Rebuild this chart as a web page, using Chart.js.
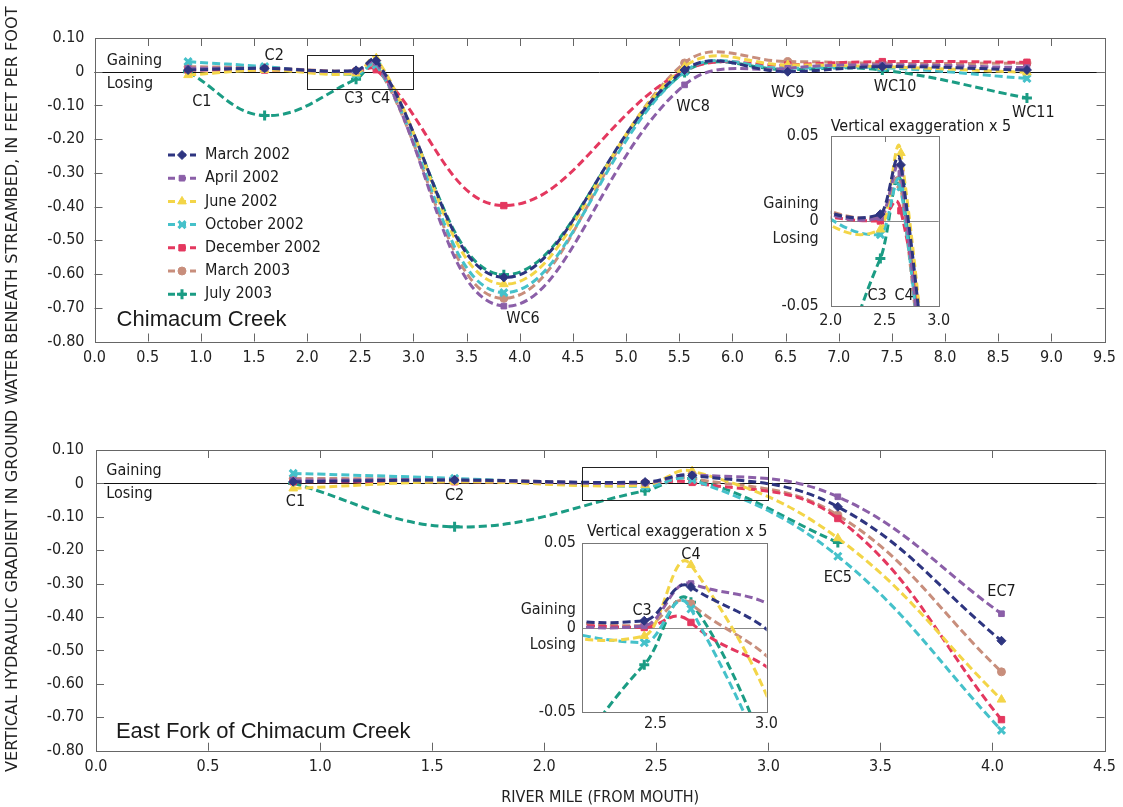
<!DOCTYPE html>
<html><head><meta charset="utf-8">
<script src="https://cdn.jsdelivr.net/npm/chart.js@4.4.1/dist/chart.umd.min.js"></script>
<style>
html,body{margin:0;padding:0;background:#fff;}
body{width:1123px;height:807px;position:relative;overflow:hidden;}
canvas{position:absolute;display:block;}
#ytitle{position:absolute;left:0;top:0;white-space:nowrap;font-size:16px;line-height:16px;color:#222;transform-origin:0 0;}
</style></head><body>
<canvas id="cTop" width="1123" height="380" style="left:0;top:0"></canvas>
<canvas id="cBot" width="1123" height="417" style="left:0;top:390px"></canvas>
<canvas id="iTop" width="280" height="230" style="left:740px;top:110px"></canvas>
<canvas id="iBot" width="290" height="230" style="left:490px;top:515px"></canvas>
<div id="ytitle">VERTICAL HYDRAULIC GRADIENT IN GROUND WATER BENEATH STREAMBED, IN FEET PER FOOT</div>
<script>
// ---------------- DATA ----------------
const seriesNames = ['March 2002','April 2002','June 2002','October 2002','December 2002','March 2003','July 2003'];

// Chimacum Creek (upper panel)
const chimSites = ['C1','C2','C3','C4','WC6','WC8','WC9','WC10','WC11'];
const chimMiles = [0.88, 1.6, 2.46, 2.65, 3.85, 5.55, 6.52, 7.41, 8.77];
const chimMar02 = [0.005, 0.01, 0.004, 0.033, -0.61, 0.005, 0.0, 0.015, 0.005];
const chimApr02 = [0.01, 0.01, 0.002, 0.028, -0.695, -0.039, 0.01, 0.02, 0.012];
const chimJun02 = [-0.01, 0.005, -0.005, 0.04, -0.63, 0.015, 0.02, 0.015, -0.002];
const chimOct02 = [0.03, 0.015, -0.008, 0.02, -0.655, 0.0, 0.01, 0.012, -0.02];
const chimDec02 = [0.005, 0.005, 0.0, 0.006, -0.397, 0.003, 0.02, 0.03, 0.028];
const chimMar03 = [0.015, 0.012, 0.002, 0.02, -0.672, 0.026, 0.03, 0.025, 0.025];
const chimJul03 = [0.0, -0.13, -0.022, 0.022, -0.602, -0.002, 0.006, 0.005, -0.078];

// East Fork of Chimacum Creek (lower panel)
const eastSites = ['C1','C2','C3','C4','EC5','EC7'];
const eastMiles = [0.88, 1.6, 2.45, 2.66, 3.31, 4.04];
const eastMar02 = [0.005, 0.01, 0.004, 0.024, -0.07, -0.471];
const eastApr02 = [0.01, 0.01, 0.001, 0.026, -0.04, -0.39];
const eastJun02 = [-0.015, 0.005, -0.005, 0.037, -0.164, -0.647];
const eastOct02 = [0.03, 0.015, -0.009, 0.011, -0.218, -0.739];
const eastDec02 = [0.005, 0.005, 0.0, 0.003, -0.105, -0.707];
const eastMar03 = [0.015, 0.012, 0.001, 0.014, -0.095, -0.564];
const eastJul03 = [0.0, -0.13, -0.022, 0.015, -0.177, null];

// tick values / labels
const mainYTickValues = [0.1, 0, -0.1, -0.2, -0.3, -0.4, -0.5, -0.6, -0.7, -0.8];
const mainYTickLabels = ['0.10','0','-0.10','-0.20','-0.30','-0.40','-0.50','-0.60','-0.70','-0.80'];
const topXTickValues = [0,0.5,1,1.5,2,2.5,3,3.5,4,4.5,5,5.5,6,6.5,7,7.5,8,8.5,9,9.5];
const topXTickLabels = ['0.0','0.5','1.0','1.5','2.0','2.5','3.0','3.5','4.0','4.5','5.0','5.5','6.0','6.5','7.0','7.5','8.0','8.5','9.0','9.5'];
const botXTickValues = [0,0.5,1,1.5,2,2.5,3,3.5,4,4.5];
const botXTickLabels = ['0.0','0.5','1.0','1.5','2.0','2.5','3.0','3.5','4.0','4.5'];
const insetYTickValues = [0.05, 0, -0.05];
const insetYTickLabels = ['0.05', ['Gaining','0','Losing'], '-0.05'];
const insetTopXTickValues = [2.0, 2.5, 3.0];
const insetTopXTickLabels = ['2.0','2.5','3.0'];
const insetBotXTickValues = [2.5, 3.0];
const insetBotXTickLabels = ['2.5','3.0'];

// text annotations (data units)
const chimSiteLabelX = [1.01, 1.69, 2.44, 2.69, 4.03, 5.63, 6.52, 7.53, 8.83];
const chimSiteLabelY = [-0.089, 0.047, -0.081, -0.081, -0.734, -0.104, -0.064, -0.046, -0.123];
const eastLabelText = ['C1','C2','EC5','EC7'];
const eastLabelX = [0.89, 1.6, 3.31, 4.04];
const eastLabelY = [-0.055, -0.038, -0.284, -0.326];
const insetTopLabelText = ['C3','C4'];
const insetTopLabelX = [2.43, 2.68];
const insetTopLabelY = [-0.044, -0.044];
const insetBotLabelText = ['C3','C4'];
const insetBotLabelX = [2.44, 2.66];
const insetBotLabelY = [0.010, 0.043];
// zoomed windows (mile range, value range)
const topWindow = [2.0, 3.0, -0.05, 0.05];
const botWindow = [2.17, 3.0, -0.05, 0.05];

// ---------------- STYLE ----------------
const NARROW = "'Liberation Sans Narrow','Arial Narrow','DejaVu Sans Condensed',sans-serif";
const REG = "'Liberation Sans',Arial,sans-serif";
const colors = ['#2e3580','#8b5fa8','#f3d548','#45c1ca','#e4385f','#c88e7c','#1b9c84'];
const pStyles = ['rectRot','rect','triangle','crossRot','rect','circle','cross'];
const pRadius = [4.5, 4, 5, 5, 4.5, 4, 5];
const pBorder = [1, 1, 1, 3, 1, 1, 3];

Chart.defaults.font.family = NARROW;
Chart.defaults.font.size = 16;
Chart.defaults.color = '#222';
Chart.defaults.animation = false;

function makeDatasets(miles, series, clip) {
  return series.map((vals, i) => ({
    label: seriesNames[i],
    data: miles.map((m, j) => ({x: m, y: vals[j]})).filter(p => p.y !== null),
    borderColor: colors[i], backgroundColor: colors[i],
    pointStyle: pStyles[i], pointRadius: pRadius[i], pointBorderWidth: pBorder[i],
    pointHoverRadius: pRadius[i],
    borderWidth: 3, borderDash: [8, 4], tension: 0.4, fill: false,
    clip: clip
  }));
}
const chimSeries = [chimMar02, chimApr02, chimJun02, chimOct02, chimDec02, chimMar03, chimJul03];
const eastSeries = [eastMar02, eastApr02, eastJun02, eastOct02, eastDec02, eastMar03, eastJul03];

function linkCps(inset, main) {
  const mx = main.scales.x, my = main.scales.y, ix = inset.scales.x, iy = inset.scales.y;
  inset.data.datasets.forEach((ds, i) => {
    const mm = main.getDatasetMeta(i), im = inset.getDatasetMeta(i);
    if (!mm.dataset || !im.dataset) return;
    mm.dataset.updateControlPoints(main.chartArea, 'x');
    im.dataset.updateControlPoints(inset.chartArea, 'x');
    im.data.forEach((p, j) => {
      const q = mm.data[j]; if (!q) return;
      p.cp1x = ix.getPixelForValue(mx.getValueForPixel(q.cp1x));
      p.cp1y = iy.getPixelForValue(my.getValueForPixel(q.cp1y));
      p.cp2x = ix.getPixelForValue(mx.getValueForPixel(q.cp2x));
      p.cp2y = iy.getPixelForValue(my.getValueForPixel(q.cp2y));
    });
    im.dataset._path = undefined;
  });
}

function drawMarker(ctx, i, x, y) {
  ctx.save();
  ctx.fillStyle = colors[i]; ctx.strokeStyle = colors[i];
  ctx.lineWidth = pBorder[i]; ctx.setLineDash([]);
  if (Chart.helpers && Chart.helpers.drawPoint) {
    Chart.helpers.drawPoint(ctx, {pointStyle: pStyles[i], radius: pRadius[i], rotation: 0, borderWidth: pBorder[i]}, x, y);
  } else {
    ctx.beginPath(); ctx.arc(x, y, pRadius[i], 0, Math.PI*2); ctx.fill();
  }
  ctx.restore();
}

function deco(cfg) {
  return {
    id: 'deco',
    beforeDatasetsDraw(chart) {
      const {ctx, chartArea: a, scales: {x, y}} = chart;
      ctx.save();
      if (cfg.whiteBg) { ctx.fillStyle = '#fff'; ctx.fillRect(a.left, a.top, a.right - a.left, a.bottom - a.top); }
      const y0 = Math.round(y.getPixelForValue(0)) + 0.5;
      ctx.strokeStyle = cfg.zeroColor; ctx.lineWidth = 1;
      ctx.beginPath(); ctx.moveTo(a.left, y0); ctx.lineTo(a.right, y0); ctx.stroke();
      ctx.restore();
      if (cfg.link) linkCps(chart, cfg.link());
    },
    afterDatasetsDraw(chart) {
      const {ctx, chartArea: a, scales: {x, y}} = chart;
      ctx.save();
      // frame
      ctx.strokeStyle = cfg.frameColor; ctx.lineWidth = 1; ctx.setLineDash([]);
      ctx.strokeRect(Math.round(a.left) + 0.5, Math.round(a.top) + 0.5, Math.round(a.right - a.left), Math.round(a.bottom - a.top));
      // inward ticks
      const tl = cfg.tickLen;
      ctx.beginPath();
      x.ticks.forEach(t => {
        const px = Math.round(x.getPixelForValue(t.value)) + 0.5;
        if (px <= a.left + 1 || px >= a.right - 1) return;
        if (cfg.xTicksTop) { ctx.moveTo(px, a.top); ctx.lineTo(px, a.top + tl); }
        if (cfg.xTicksBottom) { ctx.moveTo(px, a.bottom); ctx.lineTo(px, a.bottom - tl); }
      });
      if (cfg.yTicks) y.ticks.forEach(t => {
        const py = Math.round(y.getPixelForValue(t.value)) + 0.5;
        if (py <= a.top + 1 || py >= a.bottom - 1) return;
        ctx.moveTo(a.left, py); ctx.lineTo(a.left + tl, py);
        ctx.moveTo(a.right, py); ctx.lineTo(a.right - tl, py);
      });
      ctx.stroke();
      // zoom window rectangle
      if (cfg.window) {
        const w = cfg.window;
        const x1 = x.getPixelForValue(w[0]), x2 = x.getPixelForValue(w[1]);
        const y1 = y.getPixelForValue(w[3]), y2 = y.getPixelForValue(w[2]);
        ctx.strokeStyle = '#222';
        ctx.strokeRect(Math.round(x1) + 0.5, Math.round(y1) + 0.5, Math.round(x2 - x1), Math.round(y2 - y1));
      }
      ctx.restore();
    },
    afterDraw(chart) {
      const {ctx, chartArea: a, scales: {x, y}} = chart;
      ctx.save();
      ctx.textBaseline = 'middle'; ctx.fillStyle = '#1a1a1a';
      (cfg.texts || []).forEach(tx => {
        ctx.font = tx.font || ('16px ' + NARROW);
        ctx.textAlign = tx.align || 'center';
        ctx.fillText(tx.t, x.getPixelForValue(tx.x), y.getPixelForValue(tx.y));
      });
      if (cfg.title) {
        ctx.font = '16px ' + NARROW; ctx.textAlign = 'left';
        ctx.fillText(cfg.title, a.left + cfg.titleDx, a.top + cfg.titleDy);
      }
      if (cfg.legend) {
        chart.data.datasets.forEach((ds, i) => {
          const yy = a.top + 117 + i * 23.2;
          ctx.save();
          ctx.strokeStyle = colors[i]; ctx.lineWidth = 3; ctx.setLineDash([7, 4]);
          ctx.beginPath(); ctx.moveTo(a.left + 73.5, yy); ctx.lineTo(a.left + 101.5, yy); ctx.stroke();
          ctx.restore();
          drawMarker(ctx, i, a.left + 87.5, yy);
          ctx.fillStyle = '#1a1a1a'; ctx.font = '16px ' + NARROW; ctx.textAlign = 'left';
          ctx.fillText(ds.label, a.left + 110.5, yy);
        });
      }
      ctx.restore();
    }
  };
}

function scalesCfg(o) {
  return {
    x: {
      type: 'linear', min: o.xmin, max: o.xmax,
      afterBuildTicks: s => { s.ticks = o.xv.map(v => ({value: v})); },
      ticks: { callback: (v, i) => o.xl[i], padding: o.xpad, autoSkip: false, maxRotation: 0, color: '#222', font: {size: 16} },
      grid: { display: false, drawTicks: false }, border: { display: false },
      title: o.xtitle ? { display: true, text: o.xtitle, font: {size: 16}, color: '#222', padding: {top: 0, bottom: 0} } : {display: false},
      afterFit: s => { s.height = o.xh; }
    },
    y: {
      type: 'linear', min: o.ymin, max: o.ymax,
      afterBuildTicks: s => { s.ticks = o.yv.map(v => ({value: v})); },
      ticks: { callback: (v, i) => o.yl[i], padding: o.ypad, autoSkip: false, color: '#222', font: {size: 16, lineHeight: 1.1} },
      grid: { display: false, drawTicks: false }, border: { display: false },
      afterFit: s => { s.width = o.yw; }
    }
  };
}

const baseOpts = (padding, scales, extra) => Object.assign({
  responsive: false, devicePixelRatio: 1, animation: false,
  layout: { padding },
  plugins: { legend: {display: false}, tooltip: {enabled: false}, title: {display: false} },
  elements: { line: { capBezierPoints: false } },
  events: [],
  scales
}, extra || {});

// ---------------- TOP MAIN ----------------
const topTexts = chimSites.map((s, i) => ({t: s, x: chimSiteLabelX[i], y: chimSiteLabelY[i]}))
  .concat([
    {t: 'Gaining', x: 0.115, y: 0.032, align: 'left'},
    {t: 'Losing', x: 0.115, y: -0.036, align: 'left'},
    {t: 'Chimacum Creek', x: 0.208, y: -0.736, align: 'left', font: '22px ' + REG}
  ]);
const chartTop = new Chart(document.getElementById('cTop'), {
  type: 'line',
  data: { datasets: makeDatasets(chimMiles, chimSeries, undefined) },
  options: baseOpts({top: 38, right: 16.5, left: 0, bottom: 0}, scalesCfg({
    xmin: 0, xmax: 9.5, xv: topXTickValues, xl: topXTickLabels, xpad: 7, xh: 38.5,
    ymin: -0.8, ymax: 0.1, yv: mainYTickValues, yl: mainYTickLabels, ypad: 10, yw: 94.5
  })),
  plugins: [deco({zeroColor: '#111', frameColor: '#666', tickLen: 8, xTicksTop: true, xTicksBottom: true, yTicks: true,
    window: topWindow, texts: topTexts, legend: true})]
});

// ---------------- BOTTOM MAIN ----------------
const botTexts = eastLabelText.map((s, i) => ({t: s, x: eastLabelX[i], y: eastLabelY[i]}))
  .concat([
    {t: 'Gaining', x: 0.046, y: 0.038, align: 'left'},
    {t: 'Losing', x: 0.046, y: -0.032, align: 'left'},
    {t: 'East Fork of Chimacum Creek', x: 0.089, y: -0.744, align: 'left', font: '22px ' + REG}
  ]);
const chartBot = new Chart(document.getElementById('cBot'), {
  type: 'line',
  data: { datasets: makeDatasets(eastMiles, eastSeries, undefined) },
  options: baseOpts({top: 60, right: 17.5, left: 0, bottom: 0}, scalesCfg({
    xmin: 0, xmax: 4.5, xv: botXTickValues, xl: botXTickLabels, xpad: 7, xh: 56.3, xtitle: 'RIVER MILE (FROM MOUTH)',
    ymin: -0.8, ymax: 0.1, yv: mainYTickValues, yl: mainYTickLabels, ypad: 12, yw: 96
  })),
  plugins: [deco({zeroColor: '#111', frameColor: '#666', tickLen: 8, xTicksTop: true, xTicksBottom: true, yTicks: true,
    window: botWindow, texts: botTexts})]
});

// ---------------- TOP INSET ----------------
new Chart(document.getElementById('iTop'), {
  type: 'line',
  data: { datasets: makeDatasets(chimMiles, chimSeries, 0) },
  options: baseOpts({top: 26, right: 81.3, left: 0, bottom: 0}, scalesCfg({
    xmin: topWindow[0], xmax: topWindow[1], xv: insetTopXTickValues, xl: insetTopXTickLabels, xpad: 5, xh: 34,
    ymin: topWindow[2], ymax: topWindow[3], yv: insetYTickValues, yl: insetYTickLabels, ypad: 12, yw: 90.7
  })),
  plugins: [deco({whiteBg: true, zeroColor: '#888', frameColor: '#777', tickLen: 6, xTicksTop: true, xTicksBottom: false, yTicks: false,
    texts: insetTopLabelText.map((s, i) => ({t: s, x: insetTopLabelX[i], y: insetTopLabelY[i]})),
    title: 'Vertical exaggeration x 5', titleDx: 0, titleDy: -9, link: () => chartTop})]
});

// ---------------- BOTTOM INSET ----------------
new Chart(document.getElementById('iBot'), {
  type: 'line',
  data: { datasets: makeDatasets(eastMiles, eastSeries, 0) },
  options: baseOpts({top: 28, right: 12, left: 0, bottom: 0}, scalesCfg({
    xmin: botWindow[0], xmax: botWindow[1], xv: insetBotXTickValues, xl: insetBotXTickLabels, xpad: 2, xh: 33,
    ymin: botWindow[2], ymax: botWindow[3], yv: insetYTickValues, yl: insetYTickLabels, ypad: 6, yw: 92
  })),
  plugins: [deco({whiteBg: true, zeroColor: '#888', frameColor: '#777', tickLen: 6, xTicksTop: false, xTicksBottom: false, yTicks: false,
    texts: insetBotLabelText.map((s, i) => ({t: s, x: insetBotLabelX[i], y: insetBotLabelY[i]})),
    title: 'Vertical exaggeration x 5', titleDx: 5, titleDy: -11.5, link: () => chartBot})]
});

// ---------------- Y TITLE ----------------
(function () {
  const el = document.getElementById('ytitle');
  el.style.fontFamily = NARROW;
  const w = el.offsetWidth, h = el.offsetHeight;
  const s = 766 / w;
  const cx = 12, cy = 389;
  el.style.transform = `translate(${cx - h / 2}px, ${cy + w * s / 2}px) rotate(-90deg) scale(${s},1)`;
})();
</script>
</body></html>
